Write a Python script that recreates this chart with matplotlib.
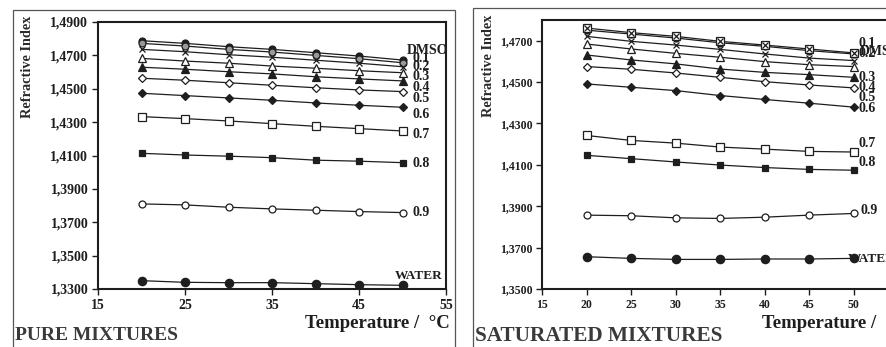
import matplotlib
matplotlib.use("Agg")
import matplotlib.pyplot as plt
from matplotlib.ticker import FuncFormatter, FixedLocator
from matplotlib.patches import Rectangle

plt.rcParams['font.family'] = ['Liberation Serif', 'DejaVu Serif']

# ---------------- data ----------------
temperature = [20, 25, 30, 35, 40, 45, 50]
series_names = ["DMSO", "0.1", "0.2", "0.3", "0.4", "0.5", "0.6", "0.7", "0.8", "0.9", "WATER"]

pure_dmso = [1.4788, 1.4772, 1.4752, 1.4736, 1.4716, 1.4696, 1.4672]
pure_01 = [1.4772, 1.4756, 1.4736, 1.4720, 1.4700, 1.4680, 1.4656]
pure_02 = [1.4736, 1.4722, 1.4704, 1.4689, 1.4671, 1.4653, 1.4632]
pure_03 = [1.4682, 1.4666, 1.4653, 1.4636, 1.4623, 1.4608, 1.4596]
pure_04 = [1.4629, 1.4617, 1.4602, 1.4589, 1.4572, 1.4559, 1.4547]
pure_05 = [1.4563, 1.4551, 1.4536, 1.4521, 1.4506, 1.4493, 1.4483]
pure_06 = [1.4473, 1.4459, 1.4445, 1.4431, 1.4415, 1.4401, 1.4389]
pure_07 = [1.4333, 1.4321, 1.4307, 1.4291, 1.4275, 1.4261, 1.4247]
pure_08 = [1.4113, 1.4103, 1.4096, 1.4087, 1.4072, 1.4066, 1.4057]
pure_09 = [1.3810, 1.3804, 1.3790, 1.3780, 1.3772, 1.3764, 1.3758]
pure_water = [1.3350, 1.3340, 1.3338, 1.3338, 1.3332, 1.3326, 1.3322]

sat_dmso = [1.4751, 1.4732, 1.4713, 1.4690, 1.4673, 1.4652, 1.4636]
sat_01 = [1.4761, 1.4739, 1.4721, 1.4697, 1.4679, 1.4660, 1.4641]
sat_02 = [1.4721, 1.4697, 1.4679, 1.4658, 1.4636, 1.4616, 1.4604]
sat_03 = [1.4684, 1.4660, 1.4639, 1.4620, 1.4599, 1.4584, 1.4575]
sat_04 = [1.4631, 1.4607, 1.4588, 1.4563, 1.4547, 1.4536, 1.4523]
sat_05 = [1.4575, 1.4562, 1.4544, 1.4523, 1.4502, 1.4486, 1.4472]
sat_06 = [1.4491, 1.4475, 1.4459, 1.4435, 1.4416, 1.4398, 1.4379]
sat_07 = [1.4242, 1.4218, 1.4205, 1.4186, 1.4176, 1.4165, 1.4162]
sat_08 = [1.4146, 1.4130, 1.4114, 1.4099, 1.4087, 1.4078, 1.4074]
sat_09 = [1.3857, 1.3854, 1.3844, 1.3841, 1.3847, 1.3857, 1.3865]
sat_water = [1.3656, 1.3648, 1.3643, 1.3643, 1.3645, 1.3645, 1.3648]

pure_series = [pure_dmso, pure_01, pure_02, pure_03, pure_04, pure_05,
               pure_06, pure_07, pure_08, pure_09, pure_water]
sat_series = [sat_dmso, sat_01, sat_02, sat_03, sat_04, sat_05,
              sat_06, sat_07, sat_08, sat_09, sat_water]

pure_yticks = [1.33, 1.35, 1.37, 1.39, 1.41, 1.43, 1.45, 1.47, 1.49]
sat_yticks = [1.35, 1.37, 1.39, 1.41, 1.43, 1.45, 1.47]
pure_xticks = [15, 25, 35, 45, 55]
sat_xticks = [15, 20, 25, 30, 35, 40, 45, 50, 55]

# label anchor positions (x, y in data units) for series names
pure_label_pos = [(50.5, 1.4732), (51.1, 1.4683), (51.1, 1.4636), (51.1, 1.4572),
                  (51.1, 1.4509), (51.1, 1.4439), (51.1, 1.4343), (51.1, 1.4223),
                  (51.1, 1.4054), (51.1, 1.3758), (49.1, 1.3379)]
sat_label_pos = [(50.7, 1.4650), (50.6, 1.4686), (50.6, 1.4636), (50.6, 1.4522),
                 (50.6, 1.4472), (50.6, 1.4427), (50.6, 1.4371), (50.6, 1.4205),
                 (50.6, 1.4113), (50.8, 1.3881), (49.4, 1.3645)]

# ---------------- styles ----------------
INK = "#1e1e1e"
styles = [
    dict(marker='o', mfc=INK),          # DMSO
    dict(marker='o', mfc='#9a9a9a'),    # 0.1
    dict(marker='x', mfc=INK),          # 0.2
    dict(marker='^', mfc='white'),      # 0.3
    dict(marker='^', mfc=INK),          # 0.4
    dict(marker='D', mfc='white'),      # 0.5
    dict(marker='D', mfc=INK),          # 0.6
    dict(marker='s', mfc='white'),      # 0.7
    dict(marker='s', mfc=INK),          # 0.8
    dict(marker='o', mfc='white'),      # 0.9
    dict(marker='o', mfc=INK),          # WATER
]
sizes = [5, 5, 5, 5.5, 5.5, 4.3, 4.3, 5.5, 5, 5, 6]

fig = plt.figure(figsize=(8.86, 3.47), dpi=100)
fig.patch.set_facecolor('white')

# panel frames
fig.patches.append(Rectangle((13/886, -0.05), (455-13)/886, 1.05 - 10/347,
                             transform=fig.transFigure, fill=False,
                             edgecolor='#555555', linewidth=0.9))
fig.patches.append(Rectangle((473/886, -0.05), 0.6, 1.05 - 8/347,
                             transform=fig.transFigure, fill=False,
                             edgecolor='#555555', linewidth=0.9))

ax1 = fig.add_axes([98/886, 1 - 289/347, (446-98)/886, (289-22)/347])
ax2 = fig.add_axes([542/886, 1 - 289/347, (898-542)/886, (289-20)/347])

fmt = FuncFormatter(lambda v, p: f"{v:.4f}".replace('.', ','))


def draw(ax, series, label_pos, xticks, yticks, ylim, tick_fs, right=False):
    for i, (name, vals) in enumerate(zip(series_names, series)):
        st = styles[i]
        if right and name == "0.1":
            ax.plot(temperature, vals, color=INK, lw=0.9, marker='s', ms=5.5,
                    mfc='white', mec=INK, mew=0.9, zorder=3)
            ax.plot(temperature, vals, ls='none', marker='x', ms=4.5,
                    mec=INK, mew=0.9, zorder=4)
        else:
            ax.plot(temperature, vals, color=INK, lw=0.9, marker=st['marker'],
                    ms=sizes[i], mfc=st['mfc'], mec=INK, mew=0.9, zorder=3)
        lx, ly = label_pos[i]
        ax.text(lx, ly, name, fontsize=10 if name != "WATER" else 9.5,
                fontweight='bold', color=INK, ha='left', va='center',
                clip_on=False)
    ax.set_xlim(15, 55)
    ax.set_ylim(*ylim)
    ax.xaxis.set_major_locator(FixedLocator(xticks))
    ax.yaxis.set_major_locator(FixedLocator(yticks))
    ax.yaxis.set_major_formatter(fmt)
    ax.tick_params(axis='both', direction='out', length=4, width=1,
                   colors=INK, labelsize=tick_fs, pad=3)
    for lab in ax.get_xticklabels() + ax.get_yticklabels():
        lab.set_fontweight('bold')
    for sp in ax.spines.values():
        sp.set_linewidth(1.5)
        sp.set_color(INK)
    ax.set_facecolor('none')


draw(ax1, pure_series, pure_label_pos, pure_xticks, pure_yticks, (1.33, 1.49), 10)
draw(ax2, sat_series, sat_label_pos, sat_xticks, sat_yticks, (1.35, 1.48), 8.5, right=True)

# axis titles
fig.text(28/886, 1 - 67/347, "Refractive Index", rotation=90, ha='center',
         va='center', fontsize=10.3, fontweight='bold', color='#2a2a2a')
fig.text(489/886, 1 - 66/347, "Refractive Index", rotation=90, ha='center',
         va='center', fontsize=10.3, fontweight='bold', color='#2a2a2a')
fig.text(450/886, 1 - 323/347, "Temperature /  \u00b0C", ha='right', va='center',
         fontsize=13.5, fontweight='bold', color=INK)
fig.text(762/886, 1 - 323/347, "Temperature /  \u00b0C", ha='left', va='center',
         fontsize=13.5, fontweight='bold', color=INK)

# panel titles
fig.text(15/886, 1 - 336/347, "PURE MIXTURES", ha='left', va='center',
         fontsize=14, fontweight='bold', color='#3a3a3a')
fig.text(475/886, 1 - 336/347, "SATURATED MIXTURES", ha='left', va='center',
         fontsize=15.3, fontweight='bold', color='#3a3a3a')

fig.savefig("out.png", dpi=100, facecolor='white')
